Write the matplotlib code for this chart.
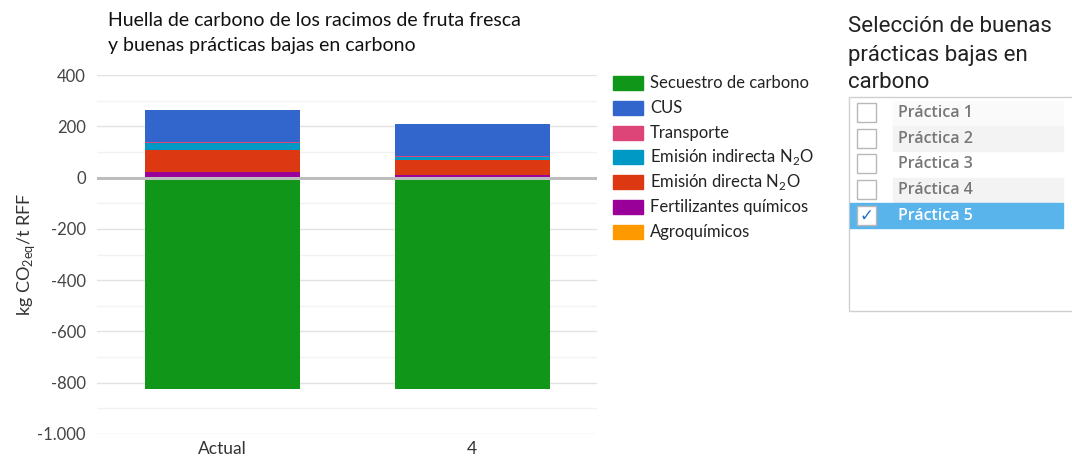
import numpy as np
import matplotlib.pyplot as plt
from matplotlib.patches import Rectangle
from matplotlib.ticker import FuncFormatter, MultipleLocator

# --- datos ---
categorias = ['Actual', '4']
secuestro = [-826, -826]
cus = [126, 124]
transporte = [4, 3]
emision_indirecta = [26, 14]
emision_directa = [85, 58]
fertilizantes = [21, 8]
agroquimicos = [2, 2]

practicas = ['Práctica 1', 'Práctica 2', 'Práctica 3', 'Práctica 4', 'Práctica 5']
seleccionada = 'Práctica 5'

# series positivas apiladas de abajo hacia arriba
series_pos = [
    ('Agroquímicos', agroquimicos, '#ff9900'),
    ('Fertilizantes químicos', fertilizantes, '#990099'),
    ('Emisión directa N$_\\mathrm{2}$O', emision_directa, '#dc3912'),
    ('Emisión indirecta N$_\\mathrm{2}$O', emision_indirecta, '#0099c6'),
    ('Transporte', transporte, '#dd4477'),
    ('CUS', cus, '#3366cc'),
]
color_secuestro = '#109618'

plt.rcParams['font.family'] = ['Lato', 'DejaVu Sans']
plt.rcParams['axes.unicode_minus'] = False
plt.rcParams['mathtext.fontset'] = 'custom'
plt.rcParams['mathtext.rm'] = 'Lato'

W, H = 1072, 459
fig = plt.figure(figsize=(W / 100, H / 100), dpi=100)

# ejes principales (en pixeles de la figura)
left, right, top, bottom = 97, 597, 75, 434
ax = fig.add_axes([left / W, (H - bottom) / H, (right - left) / W, (bottom - top) / H])

x = np.arange(len(categorias))
ancho = 0.62
ax.bar(x, secuestro, width=ancho, color=color_secuestro, zorder=2)
base = np.zeros(len(categorias))
for nombre, vals, col in series_pos:
    ax.bar(x, vals, width=ancho, bottom=base, color=col, zorder=2)
    base += np.array(vals)

ax.set_xlim(-0.5, 1.5)
ax.set_ylim(-1000, 400)
ax.yaxis.set_major_locator(MultipleLocator(200))
ax.yaxis.set_minor_locator(MultipleLocator(100))
ax.yaxis.set_major_formatter(FuncFormatter(lambda v, p: f"{v:,.0f}".replace(',', '.')))
ax.grid(axis='y', which='major', color='#e2e2e2', lw=1, zorder=0)
ax.grid(axis='y', which='minor', color='#f2f2f2', lw=1, zorder=0)
ax.axhline(0, color='#bdbdbd', lw=2.2, zorder=3)
for s in ax.spines.values():
    s.set_visible(False)
ax.tick_params(axis='both', which='both', length=0, labelsize=12, labelcolor='#444444')
ax.tick_params(axis='y', pad=8)
ax.tick_params(axis='x', pad=5)
ax.set_xticks(x)
ax.set_xticklabels(categorias, fontsize=12.5, color='#333333')
ax.set_ylabel('kg CO$_\\mathrm{2eq}$/t RFF', fontsize=13, color='#333333', labelpad=0)

# capa superpuesta en pixeles para titulo, leyenda y panel derecho
ov = fig.add_axes([0, 0, 1, 1], facecolor='none')
ov.set_xlim(0, W)
ov.set_ylim(H, 0)
ov.axis('off')

ov.text(108, 20, 'Huella de carbono de los racimos de fruta fresca', fontsize=14,
        color='#111111', va='center', ha='left')
ov.text(108, 46, 'y buenas prácticas bajas en carbono', fontsize=14,
        color='#111111', va='center', ha='left')

# leyenda
leyenda = [('Secuestro de carbono', color_secuestro)] + [(n, c) for n, v, c in series_pos[::-1]]
for i, (nombre, col) in enumerate(leyenda):
    yc = 83 + i * 24.8
    ov.add_patch(Rectangle((613, yc - 7), 30, 14, color=col))
    ov.text(650, yc, nombre, fontsize=12, color='#222222', va='center', ha='left')

# panel de seleccion
for i, linea in enumerate(['Selección de buenas', 'prácticas bajas en', 'carbono']):
    ov.text(848, 27 + i * 28, linea, fontsize=16, color='#222222', va='center',
            ha='left', family=['Roboto', 'DejaVu Sans'])

ov.add_patch(Rectangle((849, 97), 240, 214, facecolor='white', edgecolor='#d0d0d0', lw=1))
for i, p in enumerate(practicas):
    yc = 113 + i * 25.7
    sel = p == seleccionada
    if sel:
        ov.add_patch(Rectangle((850, yc - 12.5), 213, 25, color='#5ab4ec'))
    elif i % 2 == 1:
        ov.add_patch(Rectangle((893, yc - 12.5), 170, 25, color='#f3f3f3'))
    elif i == 0:
        ov.add_patch(Rectangle((893, yc - 12.5), 170, 25, color='#fafafa'))
    ov.add_patch(Rectangle((857, yc - 10), 19, 19, facecolor='white', edgecolor='#b8b8b8', lw=1))
    if sel:
        ov.text(866.5, yc, '✓', fontsize=12, color='#1f6fc5', ha='center', va='center',
                family=['DejaVu Sans'], fontweight='bold')
    ov.text(898, yc, p, fontsize=11.5, color='white' if sel else '#777777', va='center',
            ha='left', family=['Open Sans', 'DejaVu Sans'], fontweight='semibold')

fig.savefig('out.png', dpi=100)
